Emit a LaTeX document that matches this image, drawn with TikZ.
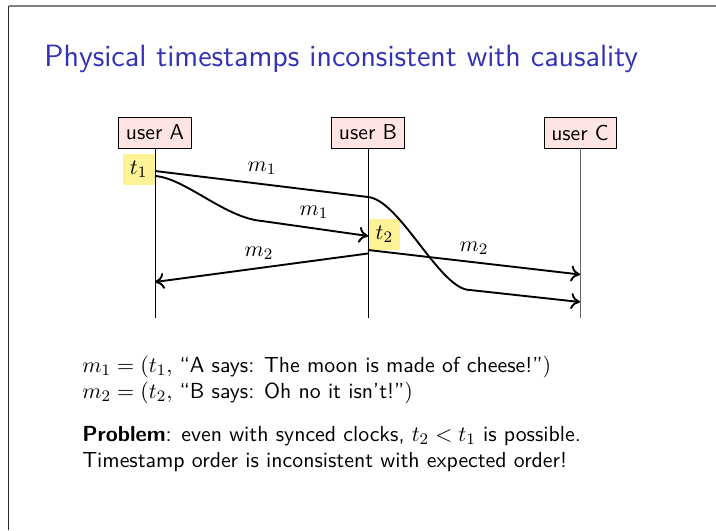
\documentclass[tikz,border=0pt]{standalone}
\usetikzlibrary{arrows.meta}
\definecolor{titleblue}{RGB}{51,51,179}
\definecolor{boxpink}{RGB}{255,228,228}
\definecolor{stampyellow}{RGB}{253,242,150}
\begin{document}
\begin{tikzpicture}[x=0.5pt,y=-0.5pt,
  font=\sffamily\fontsize{10.8}{13}\selectfont,
  userbox/.style={draw, fill=boxpink, line width=0.4pt, minimum height=15.5pt, inner xsep=3.6pt, inner ysep=0pt},
  stampbox/.style={fill=stampyellow, minimum width=16pt, minimum height=15.5pt, inner sep=0pt},
  timeline/.style={line width=0.45pt},
  msg/.style={line width=0.95pt},
  msgarrow/.style={msg, -{Computer Modern Rightarrow[length=4.6pt,width=8pt]}},
  txt/.style={anchor=base west, inner sep=0pt, font=\sffamily\fontsize{10.9}{13}\selectfont}]
\useasboundingbox (0,0) rectangle (716,530);
% frame
\coordinate (ftl) at (8.5,6);
\coordinate (ftr) at (716,6);
\coordinate (fbl) at (8.5,530);
\draw[gray, line width=0.9pt] (ftl) -- (ftr);
\draw[black!85, line width=0.7pt] (ftl) -- (fbl);
% title
\node[txt, text=titleblue, font=\sffamily\fontsize{15.4}{18}\selectfont] (title) at (44,66) {Physical timestamps inconsistent with causality};
% users
\node[userbox] (A) at (155,132.5) {user A};
\node[userbox] (B) at (368,132.5) {user B};
\node[userbox] (C) at (580,132.5) {user C};
\coordinate (Aend) at (155,318);
\coordinate (Bend) at (368,318);
\coordinate (Cend) at (580,318);
% stamps
\node[stampbox, anchor=east] (t1) at (155,169.5) {$t_1$};
\node[stampbox, anchor=west] (t2) at (368,234) {$t_2$};
\draw[timeline] (A.south) -- (Aend);
\draw[timeline] (B.south) -- (Bend);
\draw[timeline, black!60] (C.south) -- (Cend);
% message points
\coordinate (a1) at (155,171);
\coordinate (b1) at (368,197);
\coordinate (c1) at (470,290);
\coordinate (d1) at (580,302);
\coordinate (a2) at (155,176);
\coordinate (e2) at (262,221);
\coordinate (b2) at (368,236);
\coordinate (b3) at (368,253.5);
\coordinate (a3) at (155,282);
\coordinate (b4) at (368,250);
\coordinate (c4) at (580,274.5);
\draw[msgarrow] (a1) -- (b1) .. controls (400,200) and (440,290) .. (c1) -- (d1);
\draw[msgarrow] (a2) .. controls (185,178) and (225,218) .. (e2) -- (b2);
\draw[msgarrow] (b3) -- (a3);
\draw[msgarrow] (b4) -- (c4);
% labels
\node (lm1a) at (262,168) {$m_1$};
\node (lm1b) at (314,212) {$m_1$};
\node (lm2a) at (259,253) {$m_2$};
\node (lm2b) at (474,248) {$m_2$};
% text
\node[txt] (l1) at (82,372) {$m_1 = (t_1,$ ``A says: The moon is made of cheese!''$)$};
\node[txt] (l2) at (82,398) {$m_2 = (t_2,$ ``B says: Oh no it isn't!''$)$};
\node[txt] (l3) at (82,441) {\textbf{Problem}: even with synced clocks, $t_2 < t_1$ is possible.};
\node[txt] (l4) at (82,467) {Timestamp order is inconsistent with expected order!};
\end{tikzpicture}
\end{document}
